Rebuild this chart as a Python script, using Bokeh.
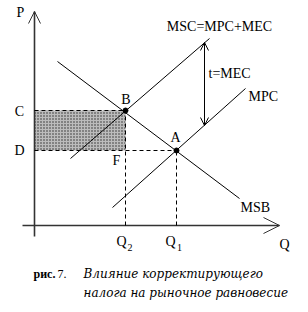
from bokeh.plotting import figure
from bokeh.models import Range1d, Arrow, OpenHead
from bokeh.core.properties import value
from bokeh.embed import file_html
from bokeh.resources import INLINE

# ---- data (Q, P in chart units) ----
msb_q = [2.3, 20.5]
msb_p = [16.4, 2.7]
msc_q = [3.6, 17.5]
msc_p = [6.7, 18.7]
mpc_q = [7.8, 21.1]
mpc_p = [1.8, 13.7]
eq_names = ["B", "A"]
eq_q = [9.1, 14.2]      # Q2, Q1
eq_p = [11.5, 7.5]      # C, D
tax_q = 17.0
tax_top = 18.3
tax_bottom = 10.0
axis_q = [-1.2, 24.5]
axis_p = [-1.1, 21.4]

SERIF = "Liberation Serif"
CAP = "DejaVu Serif"

p = figure(width=308, height=312, output_backend="svg", toolbar_location=None,
           x_range=Range1d(-3.4, 27.4), y_range=Range1d(-8.7, 22.5),
           x_axis_type=None, y_axis_type=None, min_border=0)
p.grid.visible = False
p.outline_line_color = None
p.background_fill_color = "white"

# shaded tax-revenue rectangle
p.quad(left=[0], right=[eq_q[0]], bottom=[eq_p[1]], top=[eq_p[0]],
       fill_color="#bcbcbc", line_color=None,
       hatch_pattern="dot", hatch_color="#2a2a2a", hatch_scale=3, hatch_weight=1)

# axes
p.line([0, 0], [axis_p[0], axis_p[1]], line_color="#333333", line_width=1.6)
p.line([axis_q[0], axis_q[1]], [0, 0], line_color="#333333", line_width=1.6)
p.add_layout(Arrow(end=OpenHead(size=12, line_width=1, line_color="#333333"),
                   x_start=0, y_start=axis_p[1] - 2, x_end=0, y_end=axis_p[1],
                   line_color=None))
p.add_layout(Arrow(end=OpenHead(size=16, line_width=1, line_color="#333333"),
                   x_start=axis_q[1] - 2, y_start=0, x_end=axis_q[1], y_end=0,
                   line_color=None))

# dashed guides
dash = "4 3"
p.line([0, eq_q[0]], [eq_p[0], eq_p[0]], line_dash=dash, line_color="black", line_width=1)
p.line([0, eq_q[1]], [eq_p[1], eq_p[1]], line_dash=dash, line_color="black", line_width=1)
p.line([eq_q[0], eq_q[0]], [0, eq_p[0]], line_dash=dash, line_color="black", line_width=1)
p.line([eq_q[1], eq_q[1]], [0, eq_p[1]], line_dash=dash, line_color="black", line_width=1)

# curves
for qs, ps in [(msb_q, msb_p), (msc_q, msc_p), (mpc_q, mpc_p)]:
    p.line(qs, ps, line_color="black", line_width=1)

# equilibrium points
p.scatter(eq_q, eq_p, size=5, color="black")

# tax arrow
p.add_layout(Arrow(start=OpenHead(size=8, line_width=1), end=OpenHead(size=8, line_width=1),
                   x_start=tax_q, y_start=tax_bottom, x_end=tax_q, y_end=tax_top,
                   line_width=1))

def txt(x, y, s, size=14, align="center", style="normal", font=SERIF):
    p.text(x=[x], y=[y], text=[s], text_font=value(font), text_font_size=f"{size}px",
           text_align=align, text_baseline="middle", text_font_style=style, text_color="black")

txt(-1.4, 21.3, "P")
txt(-1.5, 11.4, "C")
txt(-1.5, 7.5, "D")
txt(9.15, 12.6, "B")
txt(14.1, 8.8, "A")
txt(8.2, 6.5, "F")
txt(18.5, 19.9, "MSC=MPC+MEC")
txt(17.4, 15.2, "t=MEC", align="left")
txt(21.4, 12.9, "MPC", align="left")
txt(20.6, 1.8, "MSB", align="left")
txt(8.7, -1.6, "Q")
txt(9.55, -2.2, "2", size=10)
txt(13.6, -1.6, "Q")
txt(14.5, -2.2, "1", size=10)
txt(25.0, -1.9, "Q")

# caption
txt(-0.1, -4.8, "рис.", size=12, align="left", style="bold", font=SERIF)
txt(2.3, -4.8, "7.", size=12, align="left", font=SERIF)
txt(4.9, -4.8, "Влияние корректирующего", size=12, align="left", style="italic", font=CAP)
txt(4.9, -6.7, "налога на рыночное равновесие", size=12, align="left", style="italic", font=CAP)

open("out.html", "w").write(file_html(p, INLINE))
